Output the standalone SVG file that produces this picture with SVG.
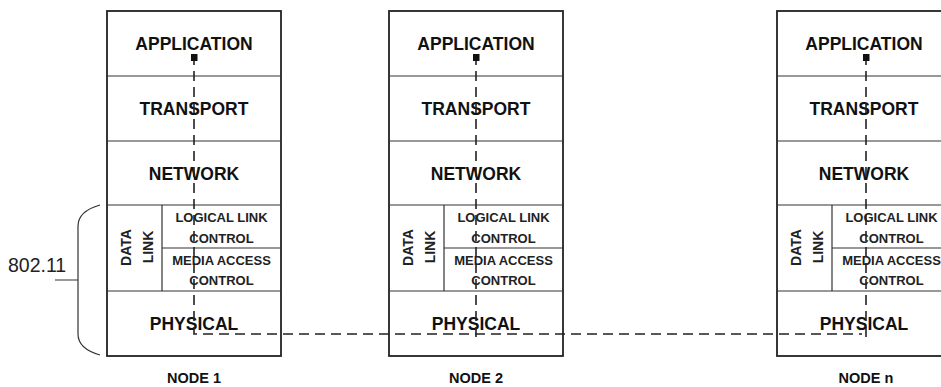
<svg xmlns="http://www.w3.org/2000/svg" width="941" height="387" viewBox="0 0 941 387">
<style>
.box{fill:#fff;stroke:#222;stroke-width:1.8}
.ln{stroke:#333;stroke-width:1.2;fill:none}
.big{font-family:"Liberation Sans",Arial,sans-serif;font-weight:bold;font-size:17.5px;fill:#111;text-anchor:middle}
.sm{font-family:"Liberation Sans",Arial,sans-serif;font-weight:bold;font-size:13px;fill:#222;text-anchor:middle}
.lbl{font-family:"Liberation Sans",Arial,sans-serif;font-weight:bold;font-size:14.5px;fill:#111;text-anchor:middle}
.dash{stroke:#222;stroke-width:1.6;fill:none;stroke-dasharray:10 6}
.std{font-family:"Liberation Sans",Arial,sans-serif;font-size:19.5px;fill:#222}
</style>
<defs>
<marker id="sq" markerWidth="7" markerHeight="7" refX="3.5" refY="1" markerUnits="userSpaceOnUse">
<rect x="0" y="0" width="7" height="7" fill="#111"/>
</marker>
<g id="stack">
<rect class="box" x="0" y="11" width="174" height="345"/>
<line class="ln" x1="0" y1="76" x2="174" y2="76"/>
<line class="ln" x1="0" y1="141" x2="174" y2="141"/>
<line class="ln" x1="0" y1="205" x2="174" y2="205"/>
<line class="ln" x1="55" y1="248" x2="174" y2="248"/>
<line class="ln" x1="0" y1="291" x2="174" y2="291"/>
<line class="ln" x1="55" y1="205" x2="55" y2="291"/>
<text class="big" x="87" y="49.5">APPLICATION</text>
<text class="big" x="87" y="115">TRANSPORT</text>
<text class="big" x="87" y="180">NETWORK</text>
<text class="sm" x="114.5" y="221.5">LOGICAL LINK</text>
<text class="sm" x="114.5" y="243">CONTROL</text>
<text class="sm" x="114.5" y="265">MEDIA ACCESS</text>
<text class="sm" x="114.5" y="285">CONTROL</text>
<text class="sm" style="font-size:14px" transform="translate(23.5,247.5) rotate(-90)">DATA</text>
<text class="sm" style="font-size:14px" transform="translate(45.5,247) rotate(-90)">LINK</text>
<text class="big" x="87" y="330">PHYSICAL</text>
</g>
</defs>
<g id="node1">
<use href="#stack" x="107" y="0"/>
<text class="lbl" x="194" y="383">NODE 1</text>
</g>
<g id="node2">
<use href="#stack" x="389" y="0"/>
<text class="lbl" x="476" y="383">NODE 2</text>
</g>
<g id="noden">
<use href="#stack" x="777" y="0"/>
<text class="lbl" x="866" y="383">NODE n</text>
</g>
<g id="bracket">
<path class="ln" d="M100,205 C86,209 78,215 78,226 L78,334 C78,345 86,351 100,355 M55,280 L78,280"/>
<text class="std" x="8" y="272">802.11</text>
</g>
<g id="connectors">
<path class="dash" d="M194,55 V334 H862" marker-start="url(#sq)"/>
<path class="dash" d="M866,55 V337" marker-start="url(#sq)"/>
<path class="dash" d="M476,55 V342" marker-start="url(#sq)"/>
</g>
</svg>
